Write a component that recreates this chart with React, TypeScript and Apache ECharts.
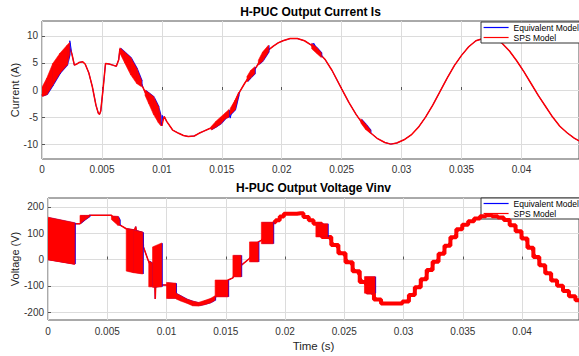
import React, { useEffect, useRef } from 'react';
import * as echarts from 'echarts';

const BLUE = '#0000ff';
const RED = '#ff0000';
const FONT = '"Liberation Sans", Arial, Helvetica, sans-serif';

const xTicks = [0, 0.005, 0.01, 0.015, 0.02, 0.025, 0.03, 0.035, 0.04];
const currentTicks = [-10, -5, 0, 5, 10];
const voltageTicks = [-200, -100, 0, 100, 200];
const legendNames = ['Equivalent Model', 'SPS Model'];

// Output current Is (A), SPS model centre trace [t, value]
const currentSps: number[][] = [
  [0, -1.0], [0.0004, 0.6], [0.0009, 2.9], [0.0015, 5.0], [0.0021, 6.6], [0.0023, 7.8],
  [0.0025, 6.6], [0.0027, 4.6], [0.0029, 4.8], [0.0031, 5.1], [0.0034, 5.2], [0.0036, 4.8],
  [0.0039, 3.2], [0.0042, 0.6], [0.0045, -2.8], [0.0047, -4.3], [0.0048, -4.5], [0.0049, -3.9],
  [0.0051, 0.3], [0.0053, 4.9], [0.0056, 4.8], [0.0059, 4.6], [0.0062, 4.4], [0.0064, 5.6],
  [0.0065, 7.6], [0.0069, 6.0], [0.0074, 4.4], [0.0079, 2.6], [0.0083, 1.1], [0.0086, -0.4],
  [0.0089, -1.5], [0.0093, -2.9], [0.0097, -4.6], [0.0099, -6.0], [0.01, -6.6], [0.0101, -5.6],
  [0.0102, -4.9], [0.0104, -5.8], [0.0109, -7.4], [0.0114, -8.0], [0.0118, -8.4], [0.0122, -8.6],
  [0.0127, -8.5], [0.0131, -8.0], [0.0135, -7.6], [0.0139, -7.2], [0.0141, -7.0], [0.0145, -6.3],
  [0.0149, -5.6], [0.0153, -4.8], [0.0157, -4.2], [0.016, -2.6], [0.0165, -0.3], [0.0169, 1.2],
  [0.0174, 2.9], [0.0179, 4.3], [0.0184, 6.2], [0.0189, 7.4], [0.0193, 8.1], [0.0197, 8.7],
  [0.0201, 9.1], [0.0207, 9.5], [0.0213, 9.5], [0.0219, 9.1], [0.0224, 8.4], [0.023, 7.1],
  [0.0236, 5.7], [0.0242, 3.6], [0.025, 0.2], [0.0256, -2.3], [0.0262, -4.5], [0.0268, -6.4],
  [0.0274, -7.9], [0.028, -9.0], [0.0286, -9.7], [0.0291, -10.0], [0.0296, -9.8], [0.0302, -9.2],
  [0.0308, -8.3], [0.0314, -6.9], [0.032, -5.0], [0.0326, -2.8], [0.0332, -0.3], [0.0338, 2.2],
  [0.0344, 4.5], [0.035, 6.4], [0.0356, 8.0], [0.0362, 9.1], [0.0368, 9.5], [0.0373, 9.6],
  [0.0378, 9.4], [0.0384, 8.6], [0.039, 7.2], [0.0396, 5.4], [0.0402, 3.4], [0.0408, 1.2],
  [0.0414, -1.0], [0.042, -3.0], [0.0426, -5.0], [0.0432, -6.7], [0.0438, -7.9], [0.0444, -8.9],
  [0.0448, -9.4],
];
// Points where the equivalent model trace sticks out of the SPS trace
const currentEqSpikes: number[][] = [
  [0.00232, 9.1], [0.01005, -4.7], [0.0157, -5.2], [0.0227, 8.6],
];
// Switching-ripple envelopes [t, low, high]
const currentBands: number[][][] = [
  [[0, -1.2, 0.5], [0.0004, -0.9, 2.2], [0.0009, 0.9, 4.9], [0.0015, 3.1, 6.8], [0.0021, 4.6, 8.3], [0.0023, 6.5, 8.8]],
  [[0.0065, 6.8, 7.8], [0.0069, 5.0, 7.0], [0.0074, 2.8, 6.0], [0.0079, 1.2, 4.0], [0.0083, 0.6, 1.8]],
  [[0.0086, -1.0, 0.0], [0.0089, -2.5, -0.5], [0.0093, -4.5, -1.2], [0.0097, -6.0, -3.0], [0.0099, -6.6, -4.8]],
  [[0.0141, -7.4, -6.8], [0.0145, -6.9, -5.8], [0.0149, -6.3, -5.0], [0.0153, -5.3, -4.2], [0.0156, -5.0, -3.6]],
  [[0.0157, -4.6, -3.4], [0.0161, -3.7, -1.9], [0.0164, -1.0, -0.4]],
  [[0.0171, 1.5, 2.5], [0.0174, 2.2, 3.6], [0.01775, 3.0, 4.3]],
  [[0.01805, 4.6, 5.5], [0.0184, 5.3, 7.0], [0.0189, 7.0, 8.3]],
  [[0.0225, 7.6, 8.6], [0.0229, 6.8, 7.9], [0.0233, 6.0, 6.9]],
  [[0.0266, -6.1, -5.3], [0.027, -7.3, -6.3], [0.0274, -8.0, -7.4]],
];

// Output voltage Vinv (V), thin trace [t, value]
const voltageSps: number[][] = [
  [0, 0], [0.00225, -17], [0.00226, 136], [0.0027, 136], [0.0035, 168], [0.00535, 168],
  [0.00605, 132], [0.0066, 117], [0.0073, 112], [0.0074, 125], [0.00745, 110], [0.008, 103],
  [0.00805, 48], [0.00845, -3], [0.0087, -28], [0.0089, -40], [0.00902, -104], [0.00905, -150],
  [0.00908, -104], [0.0096, -97], [0.01, -97], [0.0104, -120], [0.0108, -140], [0.0112, -148],
  [0.0117, -158], [0.0122, -167], [0.0127, -170], [0.0132, -164], [0.0137, -156], [0.0141, -146],
  [0.0146, -110], [0.0152, -78], [0.0156, -70], [0.016, -25], [0.0163, -22], [0.017, 4],
  [0.0174, 30], [0.01775, 67], [0.018, 73], [0.0185, 100], [0.019, 142],
];
// Multilevel staircase part [t, level]
const voltageStairs: number[][] = [
  [0.019, 142], [0.0194, 149], [0.0197, 164], [0.0201, 174], [0.0207, 174], [0.0213, 176],
  [0.0218, 162], [0.0222, 149], [0.0226, 136], [0.0236, 86], [0.0242, 55], [0.0248, 24],
  [0.0254, -10], [0.026, -45], [0.0266, -85], [0.0272, -125], [0.0278, -152], [0.0284, -167],
  [0.029, -167], [0.0296, -167], [0.0302, -160], [0.0307, -135], [0.0312, -105], [0.0317, -75],
  [0.0322, -40], [0.0327, -8], [0.0332, 22], [0.0337, 52], [0.0342, 85], [0.0347, 115],
  [0.0352, 132], [0.0357, 146], [0.0362, 156], [0.0367, 165], [0.0372, 168], [0.0377, 165],
  [0.0382, 160], [0.0387, 150], [0.0392, 130], [0.0397, 108], [0.0402, 80], [0.0407, 45],
  [0.0412, 10], [0.0417, -22], [0.0422, -52], [0.0427, -80], [0.0432, -100], [0.0437, -120],
  [0.0442, -140], [0.0448, -155],
];
// PWM switching envelopes [t, low, high]
const voltageBands: number[][][] = [
  [[0, 0, 161], [0.00225, -17, 140]],
  [[0.0027, 136, 168], [0.0031, 150, 168], [0.0035, 163, 168]],
  [[0.00535, 152, 166], [0.0059, 130, 164], [0.00605, 130, 150]],
  [[0.0066, -44, 117], [0.0072, -50, 112], [0.008, -55, 103]],
  [[0.0085, -104, -5], [0.00878, -104, -12]],
  [[0.00882, -106, 48], [0.0096, -104, 63]],
  [[0.01, -148, -87], [0.0108, -148, -90]],
  [[0.0108, -150, -128], [0.0112, -158, -138], [0.0117, -166, -150], [0.0122, -176, -158], [0.0127, -177, -163], [0.0132, -172, -156], [0.0137, -165, -148], [0.0141, -155, -138]],
  [[0.0141, -142, -78], [0.0152, -142, -78]],
  [[0.0156, -66, 16], [0.0163, -66, 16]],
  [[0.017, -9, 67], [0.01775, -9, 67]],
  [[0.018, 60, 142], [0.019, 60, 142]],
  [[0.0226, 86, 136], [0.0236, 86, 136]],
  [[0.0267, -128, -65], [0.0276, -128, -65]],
];

const X_MAX = 0.0448;

function toQuads(bands: number[][][]): number[][] {
  const out: number[][] = [];
  bands.forEach((b) => {
    for (let i = 0; i < b.length - 1; i++) {
      out.push([b[i][0], b[i][1], b[i][2], b[i + 1][0], b[i + 1][1], b[i + 1][2]]);
    }
  });
  return out;
}

function mergeSpikes(base: number[][], spikes: number[][]): number[][] {
  return [...base, ...spikes].sort((a, b) => a[0] - b[0]);
}

const renderBand = (_params: any, api: any) => {
  const a = api.coord([api.value(0), api.value(1)]);
  const b = api.coord([api.value(0), api.value(2)]);
  const c = api.coord([api.value(3), api.value(5)]);
  const d = api.coord([api.value(3), api.value(4)]);
  const pts = [a, b, c, d];
  const shifted = pts.map((p: number[]) => [p[0] + 1, p[1]]);
  return {
    type: 'group',
    children: [
      { type: 'polygon', shape: { points: shifted }, style: { fill: BLUE } },
      { type: 'polygon', shape: { points: pts }, style: { fill: RED, stroke: RED, lineWidth: 0.6 } },
    ],
  };
};

function xAxis(gridIndex: number, margin: number, name?: string) {
  return {
    type: 'value',
    gridIndex,
    min: 0,
    max: X_MAX,
    name: name || '',
    nameLocation: 'middle',
    nameGap: 20,
    nameMoveOverlap: false,
    nameTextStyle: { fontSize: 11.5, color: '#262626', fontFamily: FONT },
    axisLine: { show: false },
    axisTick: { show: true, inside: true, length: 3, customValues: xTicks, lineStyle: { color: '#555' } },
    axisLabel: { customValues: xTicks, margin, fontSize: 10, color: '#333', fontFamily: FONT, formatter: (v: number) => String(v) },
    splitLine: { show: true, lineStyle: { color: '#dcdcdc', width: 1 } },
  };
}

function yAxis(gridIndex: number, min: number, max: number, ticks: number[], name: string, gap: number) {
  return {
    type: 'value',
    gridIndex,
    min,
    max,
    name,
    nameLocation: 'middle',
    nameGap: gap,
    nameMoveOverlap: false,
    nameTextStyle: { fontSize: 11, color: '#262626', fontFamily: FONT },
    axisLine: { show: false },
    axisTick: { show: true, inside: true, length: 3, customValues: ticks, lineStyle: { color: '#555' } },
    axisLabel: { customValues: ticks, margin: 4, fontSize: 10, color: '#333', fontFamily: FONT },
    splitLine: { show: true, lineStyle: { color: '#dcdcdc', width: 1 } },
  };
}

function legend(top: number) {
  return {
    data: legendNames,
    orient: 'vertical',
    left: 481,
    top,
    itemWidth: 25,
    itemHeight: 11,
    itemGap: 1,
    padding: [1, 4, 1, 2],
    backgroundColor: '#fff',
    borderColor: '#333',
    borderWidth: 1,
    itemStyle: { opacity: 0 },
    lineStyle: { width: 1.2 },
    textStyle: { fontSize: 8.5, color: '#000', fontFamily: FONT },
    selectedMode: false,
  };
}

export default function App() {
  const ref = useRef<HTMLDivElement>(null);
  useEffect(() => {
    if (!ref.current) return;
    const chart = echarts.init(ref.current, undefined, { renderer: 'svg' });
    const voltageThin = [...voltageSps, ...voltageStairs.slice(1)];
    const gridBase = { show: true, borderColor: '#555', borderWidth: 1, backgroundColor: '#fff', containLabel: false, outerBoundsMode: 'none' };
    const option: any = {
      animation: false,
      backgroundColor: '#fff',
      textStyle: { fontFamily: FONT },
      title: [
        { text: 'H-PUC Output Current Is', left: 310.5, top: 6, textAlign: 'center', padding: 0, textStyle: { fontSize: 12, fontWeight: 'bold', color: '#000', fontFamily: FONT } },
        { text: 'H-PUC Output Voltage Vinv', left: 313.5, top: 182, textAlign: 'center', padding: 0, textStyle: { fontSize: 12, fontWeight: 'bold', color: '#000', fontFamily: FONT } },
      ],
      legend: [legend(22), legend(198)],
      grid: [
        { ...gridBase, left: 42, top: 21, width: 537, height: 138 },
        { ...gridBase, left: 48, top: 198, width: 531, height: 122 },
      ],
      xAxis: [xAxis(0, 5), xAxis(1, 6, 'Time (s)')],
      yAxis: [
        yAxis(0, -12.75, 12.75, currentTicks, 'Current (A)', 22),
        yAxis(1, -230, 234, voltageTicks, 'Voltage (V)', 28),
      ],
      series: [
        { name: 'Equivalent Model', type: 'line', xAxisIndex: 0, yAxisIndex: 0, data: mergeSpikes(currentSps, currentEqSpikes), showSymbol: false, symbol: 'none', lineStyle: { color: BLUE, width: 1 }, itemStyle: { color: BLUE }, z: 2 },
        { name: 'SPS Model', type: 'line', xAxisIndex: 0, yAxisIndex: 0, data: currentSps, showSymbol: false, symbol: 'none', lineStyle: { color: RED, width: 1.5 }, itemStyle: { color: RED }, z: 3 },
        { name: 'current ripple', type: 'custom', xAxisIndex: 0, yAxisIndex: 0, data: toQuads(currentBands), renderItem: renderBand, clip: true, z: 4 },
        { name: 'Equivalent Model', type: 'line', xAxisIndex: 1, yAxisIndex: 1, data: voltageThin, showSymbol: false, symbol: 'none', lineStyle: { color: BLUE, width: 1 }, itemStyle: { color: BLUE }, z: 2 },
        { name: 'SPS Model', type: 'line', xAxisIndex: 1, yAxisIndex: 1, data: voltageThin, showSymbol: false, symbol: 'none', lineStyle: { color: RED, width: 1.5 }, itemStyle: { color: RED }, z: 3 },
        { name: 'voltage levels', type: 'line', xAxisIndex: 1, yAxisIndex: 1, data: voltageStairs, step: 'middle', showSymbol: false, symbol: 'none', lineStyle: { color: RED, width: 4 }, itemStyle: { color: RED }, z: 4 },
        { name: 'voltage pwm', type: 'custom', xAxisIndex: 1, yAxisIndex: 1, data: toQuads(voltageBands), renderItem: renderBand, clip: true, z: 5 },
      ],
    };
    chart.setOption(option);
    return () => chart.dispose();
  }, []);
  return <div ref={ref} style={{ position: 'fixed', left: 0, top: 0, width: 579, height: 356 }} />;
}
